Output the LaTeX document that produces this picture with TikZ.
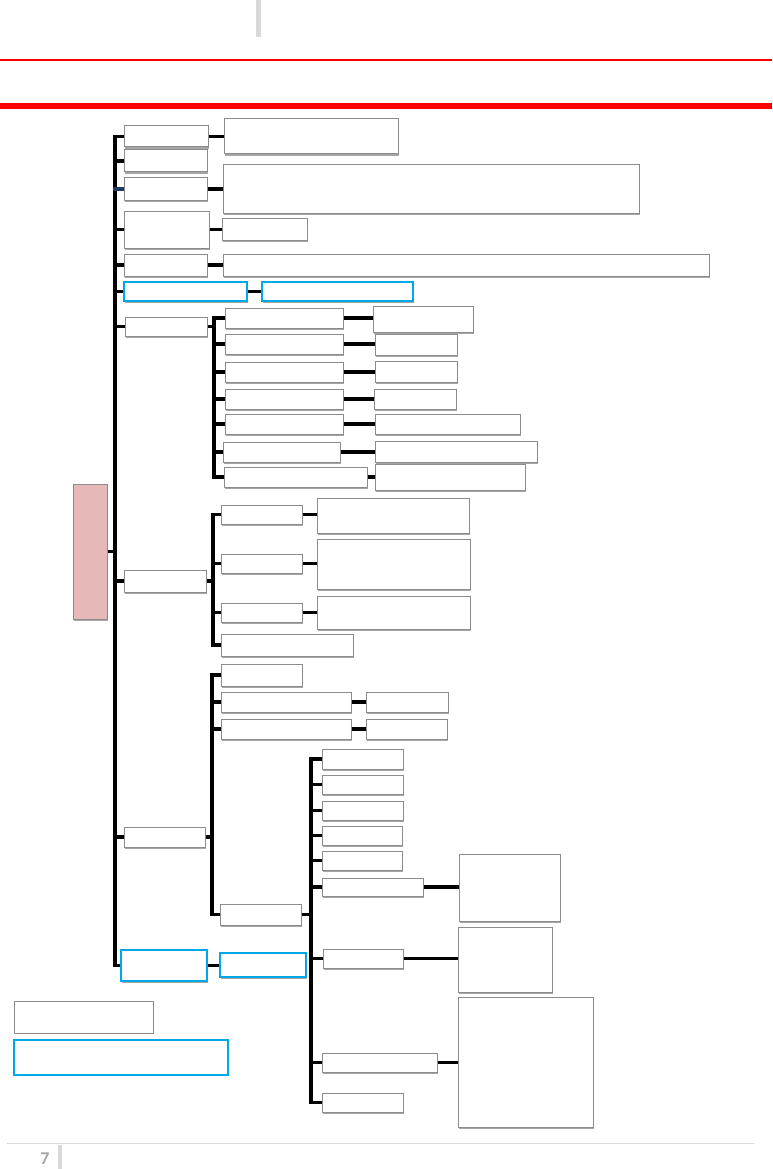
\documentclass[tikz,border=0pt]{standalone}
\usepackage{fontspec}
\newfontfamily\pagefont{Carlito}
\usetikzlibrary{fit,shadows,backgrounds}
\definecolor{boxgray}{HTML}{8C8C8C}
\definecolor{bluebox}{HTML}{00A9E6}
\definecolor{pinkfill}{HTML}{E6B8B7}
\definecolor{hdrgray}{HTML}{D9D9D9}
\definecolor{navyline}{HTML}{1F3864}
\definecolor{pagegray}{HTML}{A6A6A6}
\definecolor{hdrred}{HTML}{FF0000}
\tikzset{
  box/.style={draw=boxgray, line width=1pt, fill=white, inner sep=0pt, outer sep=0pt,
    drop shadow={shadow xshift=1pt, shadow yshift=-2pt, opacity=0.35, fill=black}},
  bbox/.style={box, draw=bluebox, line width=1.6pt},
  pbox/.style={box, fill=pinkfill},
  legbox/.style={draw=boxgray, line width=1pt, fill=white, inner sep=0pt, outer sep=0pt},
  leglbox/.style={legbox, draw=bluebox, line width=2pt},
  conn/.style={line width=3.5pt, black, line cap=rect},
}
\newcommand\mkbox[6][box]{\node[#1, fit={(#3,#4) (#5,#6)}] (#2) {};}
\begin{document}
\begin{tikzpicture}[x=1pt,y=-1pt]
\useasboundingbox (0,0) rectangle (772,1169);
% header
\fill[hdrgray] (256,0) rectangle (261,37);
\fill[hdrred] (0,59.4) rectangle (772,60.8);
\fill[hdrred] (0,103) rectangle (772,109);
% footer
\draw[hdrgray, line width=1pt] (7,1143) -- (754,1143);
\fill[hdrgray] (58,1145) rectangle (62,1169);
\node[font=\pagefont\bfseries\fontsize{18}{18}\selectfont, text=pagegray] (pg) at (45,1159) {7};
% root
\mkbox[pbox]{P}{73}{484}{107}{619}
% level 1
\mkbox{A1}{124}{126}{208}{147}
\mkbox{A2}{124}{150}{207}{172}
\mkbox{A3}{124}{178}{207}{200}
\mkbox{A4}{124}{211}{209}{248}
\mkbox{A5}{124}{254}{207}{276}
\mkbox[bbox]{A6}{124}{282}{247}{301}
\mkbox{A7}{125}{317}{207}{336}
\mkbox{A8}{124}{570}{206}{592}
\mkbox{A9}{124}{827}{205}{847}
\mkbox[bbox]{A10}{121}{950}{207}{981}
% children of level 1
\mkbox{A1c}{224}{119}{398}{154}
\mkbox{A3c}{223}{165}{639}{213}
\mkbox{A4c}{222}{218}{307}{240}
\mkbox{A5c}{223}{254}{709}{276}
\mkbox[bbox]{A6c}{262}{282}{413}{301}
% A7 group
\mkbox{B1}{225}{308}{343}{328} \mkbox{C1}{373}{306}{473}{332}
\mkbox{B2}{225}{334}{343}{354} \mkbox{C2}{375}{334}{457}{355}
\mkbox{B3}{225}{362}{343}{382} \mkbox{C3}{375}{361}{457}{382}
\mkbox{B4}{225}{389}{343}{409} \mkbox{C4}{374}{389}{456}{409}
\mkbox{B5}{225}{414}{343}{434} \mkbox{C5}{375}{414}{520}{434}
\mkbox{B6}{223}{442}{340}{462} \mkbox{C6}{375}{441}{537}{462}
\mkbox{B7}{224}{467}{367}{487} \mkbox{C7}{375}{464}{525}{490}
% A8 group
\mkbox{D1}{221}{505}{302}{524} \mkbox{E1}{317}{498}{469}{533}
\mkbox{D2}{221}{554}{302}{573} \mkbox{E2}{317}{539}{470}{589}
\mkbox{D3}{221}{603}{302}{622} \mkbox{E3}{317}{596}{470}{629}
\mkbox{D4}{221}{634}{353}{656}
% A9 group
\mkbox{F1}{221}{664}{302}{686}
\mkbox{F2}{221}{692}{351}{712} \mkbox{G2}{366}{692}{448}{712}
\mkbox{F3}{221}{719}{351}{739} \mkbox{G3}{366}{719}{447}{739}
\mkbox{F4}{220}{904}{301}{925}
% F4 group
\mkbox{H1}{322}{749}{403}{769}
\mkbox{H2}{322}{775}{403}{794}
\mkbox{H3}{322}{801}{403}{820}
\mkbox{H4}{322}{826}{402}{845}
\mkbox{H5}{322}{851}{402}{870}
\mkbox{H6}{322}{878}{423}{896} \mkbox{I6}{459}{854}{560}{921}
\mkbox{H7}{323}{949}{403}{968} \mkbox{I7}{458}{927}{552}{992}
\mkbox{H8}{322}{1053}{437}{1072} \mkbox{I8}{458}{997}{593}{1127}
\mkbox{H9}{322}{1093}{403}{1112}
% A10 child
\mkbox[bbox]{J}{220}{953}{306}{977}
% legend
\mkbox[legbox]{L1}{14}{1001}{153}{1033}
\mkbox[leglbox]{L2}{14}{1040}{228}{1075}
% spine coordinates
\coordinate (sp) at (115,0);
\coordinate (s7) at (214,0);
\coordinate (s8) at (213,0);
\coordinate (s9) at (212,0);
\coordinate (s10) at (311,0);
\begin{scope}[on background layer]
  % main spine
  \draw[conn] (A1.west -| sp) -- (A10.west -| sp);
  \foreach \n in {A1,A2,A4,A5,A6,A7,A8,A9,A10} \draw[conn] (\n.west) -- (\n.west -| sp);
  \draw[conn, navyline] (A3.west) -- (A3.west -| sp);
  \draw[conn] (P.east) -- (P.east -| sp);
  % level-1 children
  \draw[conn] (A1.east) -- (A1.east -| A1c.west);
  \draw[conn] (A3.east) -- (A3.east -| A3c.west);
  \draw[conn] (A4.east) -- (A4.east -| A4c.west);
  \draw[conn] (A5.east) -- (A5.east -| A5c.west);
  \draw[conn] (A6.east) -- (A6.east -| A6c.west);
  % A7 group
  \draw[conn] (A7.east) -- (A7.east -| s7);
  \draw[conn] (B1.west -| s7) -- (B7.west -| s7);
  \foreach \b/\c in {B1/C1,B2/C2,B3/C3,B4/C4,B5/C5,B6/C6,B7/C7} {
    \draw[conn] (\b.west) -- (\b.west -| s7);
    \draw[conn] (\b.east) -- (\b.east -| \c.west);
  }
  % A8 group
  \draw[conn] (A8.east) -- (A8.east -| s8);
  \draw[conn] (D1.west -| s8) -- (D4.west -| s8);
  \foreach \d in {D1,D2,D3,D4} \draw[conn] (\d.west) -- (\d.west -| s8);
  \foreach \d/\e in {D1/E1,D2/E2,D3/E3} \draw[conn] (\d.east) -- (\d.east -| \e.west);
  % A9 group
  \draw[conn] (A9.east) -- (A9.east -| s9);
  \draw[conn] (F1.west -| s9) -- (F4.west -| s9);
  \foreach \f in {F1,F2,F3,F4} \draw[conn] (\f.west) -- (\f.west -| s9);
  \foreach \f/\g in {F2/G2,F3/G3} \draw[conn] (\f.east) -- (\f.east -| \g.west);
  % F4 group
  \draw[conn] (F4.east) -- (F4.east -| s10);
  \draw[conn] (H1.west -| s10) -- (H9.west -| s10);
  \foreach \h in {H1,H2,H3,H4,H5,H6,H7,H8,H9} \draw[conn] (\h.west) -- (\h.west -| s10);
  \foreach \h/\i in {H6/I6,H7/I7,H8/I8} \draw[conn] (\h.east) -- (\h.east -| \i.west);
  % A10 child
  \draw[conn] (A10.east) -- (A10.east -| J.west);
\end{scope}
\end{tikzpicture}
\end{document}
